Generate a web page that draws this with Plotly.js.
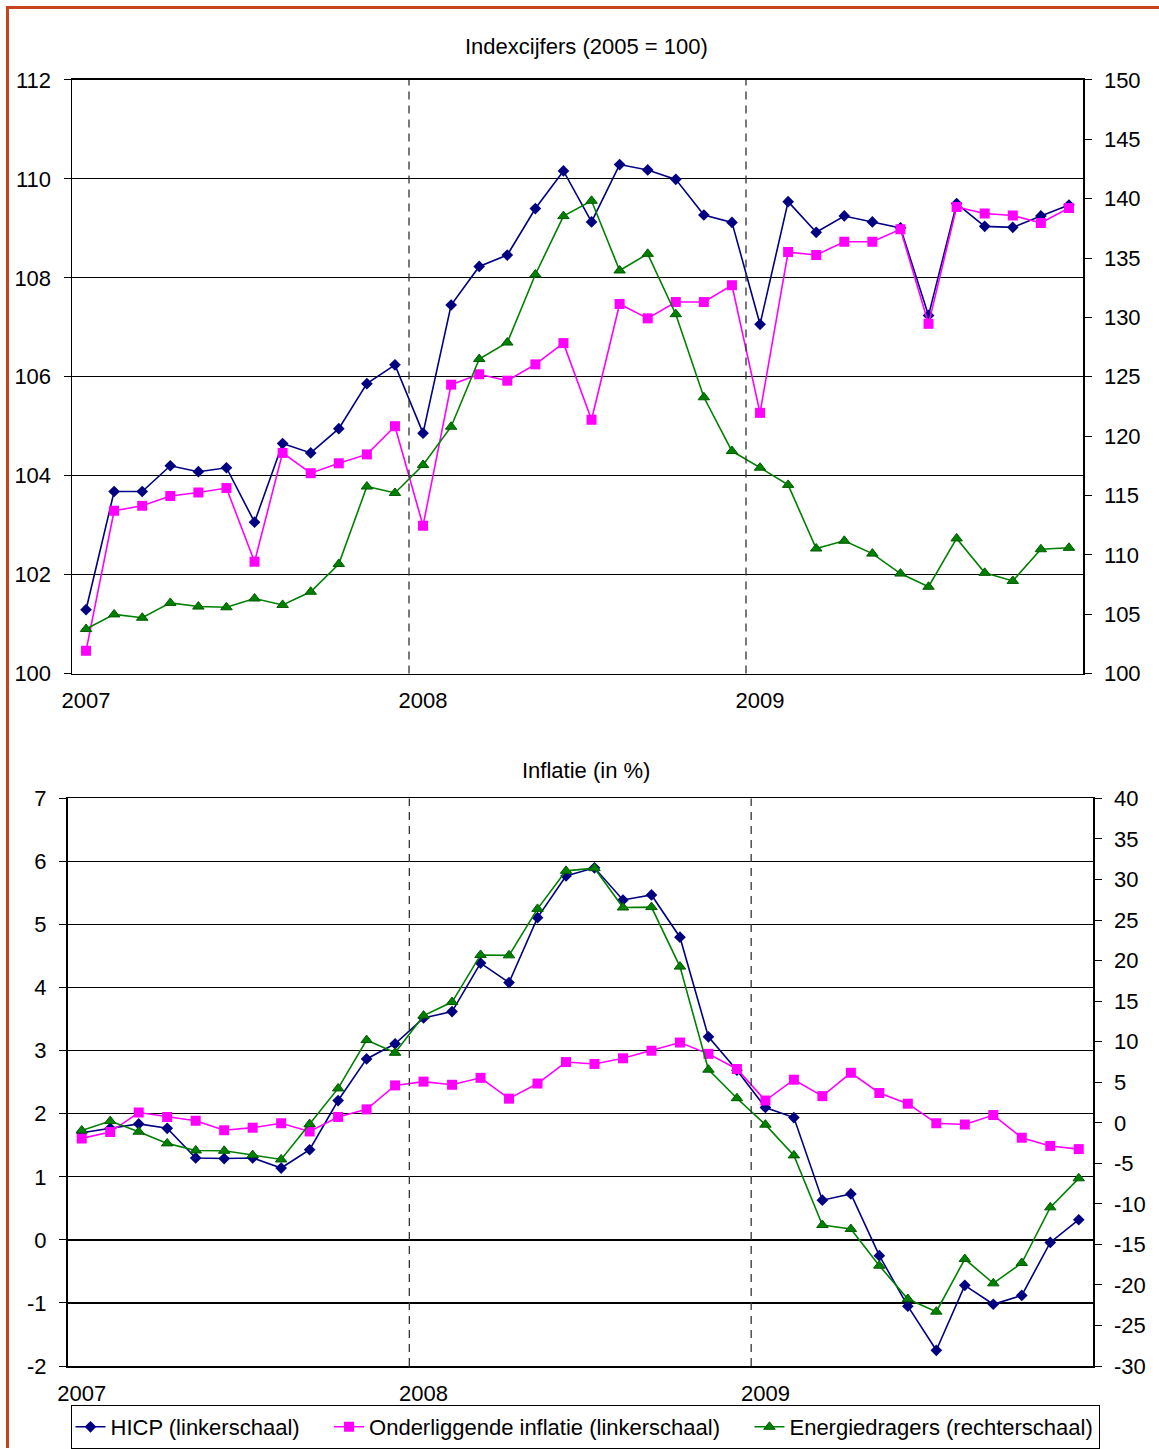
<!DOCTYPE html>
<html>
<head>
<meta charset="utf-8">
<script src="https://cdn.plot.ly/plotly-3.0.1.min.js"></script>
<style>
  html, body { margin: 0; padding: 0; background: #ffffff; }
  #chart { width: 1159px; height: 1449px; }
</style>
</head>
<body>
<div id="chart"></div>
<script>
// Months Jan 2007 .. Dec 2009 (index 0..35)
const months = Array.from({length: 36}, (_, i) => i);
const yearTickVals = [0, 12, 24];
const yearTickText = ['2007', '2008', '2009'];
const yearBreaks = [11.5, 23.5];

// Tick labels of the bottom panel (plain hyphen minus as in the original)
const inflLeftTicks = [-2, -1, 0, 1, 2, 3, 4, 5, 6, 7];
const inflLeftText = ['-2', '-1', '0', '1', '2', '3', '4', '5', '6', '7'];
const inflRightTicks = [-30, -25, -20, -15, -10, -5, 0, 5, 10, 15, 20, 25, 30, 35, 40];
const inflRightText = ['-30', '-25', '-20', '-15', '-10', '-5', '0', '5', '10', '15', '20', '25', '30', '35', '40'];

// Top panel: index numbers (2005 = 100)
const hicpIndex = [101.29, 103.68, 103.68, 104.20, 104.08, 104.16, 103.06, 104.65, 104.46, 104.95, 105.86, 106.24,
                   104.86, 107.45, 108.23, 108.46, 109.40, 110.16, 109.13, 110.29, 110.18, 109.99, 109.27, 109.12,
                   107.06, 109.54, 108.92, 109.25, 109.13, 109.01, 107.24, 109.50, 109.04, 109.02, 109.25, 109.47];
const coreIndex = [100.46, 103.29, 103.39, 103.59, 103.66, 103.75, 102.26, 104.46, 104.05, 104.25, 104.43, 105.00,
                   102.99, 105.84, 106.05, 105.92, 106.25, 106.68, 105.13, 107.47, 107.18, 107.51, 107.51, 107.85,
                   105.27, 108.52, 108.46, 108.73, 108.73, 108.98, 107.07, 109.43, 109.30, 109.26, 109.11, 109.41];
const energyIndex = [103.75, 104.98, 104.70, 105.95, 105.64, 105.58, 106.32, 105.78, 106.89, 109.23, 115.75, 115.21,
                     117.57, 120.79, 126.49, 127.88, 133.61, 138.53, 139.82, 133.95, 135.35, 130.27, 123.27, 118.74,
                     117.34, 115.89, 110.53, 111.18, 110.10, 108.42, 107.31, 111.38, 108.48, 107.80, 110.47, 110.59];

// Bottom panel: inflation (in %)
const hicpInfl = [1.70, 1.77, 1.84, 1.77, 1.30, 1.29, 1.30, 1.14, 1.43, 2.21, 2.87, 3.11,
                  3.52, 3.62, 4.39, 4.08, 5.11, 5.77, 5.90, 5.39, 5.47, 4.80, 3.22, 2.69,
                  2.10, 1.94, 0.63, 0.73, -0.25, -1.05, -1.75, -0.72, -1.02, -0.88, -0.04, 0.32];
const coreInfl = [1.61, 1.71, 2.02, 1.95, 1.89, 1.74, 1.78, 1.85, 1.72, 1.95, 2.07, 2.45,
                  2.51, 2.46, 2.57, 2.24, 2.48, 2.82, 2.79, 2.88, 3.00, 3.13, 2.95, 2.71,
                  2.21, 2.54, 2.28, 2.65, 2.33, 2.16, 1.85, 1.83, 1.98, 1.62, 1.49, 1.44];
const energyInfl = [-0.94, 0.21, -1.10, -2.54, -3.41, -3.45, -3.98, -4.52, -0.16, 4.24, 10.20, 8.63,
                    13.22, 14.89, 20.70, 20.65, 26.38, 31.07, 31.40, 26.55, 26.60, 19.26, 6.55, 3.03,
                    -0.23, -4.02, -12.61, -13.10, -17.62, -21.73, -23.29, -16.80, -19.80, -17.29, -10.43, -6.85];

const names = ['HICP (linkerschaal)', 'Onderliggende inflatie (linkerschaal)', 'Energiedragers (rechterschaal)'];
const colors = ['#000080', '#FF00FF', '#008000'];

const FONT = 'Liberation Sans, Arial, sans-serif';
const PAD = '\u00a0\u00a0\u00a0\u00a0';

function series(x, y, idx, xa, ya, showlegend) {
  const symbols = ['diamond', 'square', 'triangle-up'];
  const sizes = [9, 10, 10];
  return {
    x: x, y: y, xaxis: xa, yaxis: ya, type: 'scatter', mode: 'lines+markers',
    name: idx < 2 ? names[idx] + PAD : names[idx], showlegend: showlegend, legendgroup: 'g' + idx,
    line: {color: colors[idx], width: 1.6},
    marker: {symbol: symbols[idx], size: sizes[idx], color: colors[idx],
             line: {color: idx === 2 ? '#005a00' : colors[idx], width: idx === 2 ? 1 : 0}}
  };
}

const data = [
  series(months, hicpIndex, 0, 'x', 'y', true),
  series(months, coreIndex, 1, 'x', 'y', true),
  series(months, energyIndex, 2, 'x', 'y2', true),
  series(months, hicpInfl, 0, 'x2', 'y3', false),
  series(months, coreInfl, 1, 'x2', 'y3', false),
  series(months, energyInfl, 2, 'x2', 'y4', false)
];

const W = 1159, H = 1449;
const px = v => v / W;
const py = v => 1 - v / H;

const tickFont = {family: FONT, size: 22, color: '#000'};

function xAxis(domain, anchor) {
  return {
    domain: domain, anchor: anchor, range: [-0.5, 35.5],
    tickvals: yearTickVals, ticktext: yearTickText, ticks: '', showgrid: false,
    showline: true, mirror: true, linecolor: '#000', linewidth: 1.5, zeroline: false,
    ticklabelstandoff: 7,
    tickfont: tickFont, fixedrange: true
  };
}
function yLeft(domain, anchor, range, dtick) {
  return {
    domain: domain, anchor: anchor, range: range, dtick: dtick, tick0: range[0],
    showgrid: true, gridcolor: '#000', gridwidth: 1.2,
    showline: true, linecolor: '#000', linewidth: 1.5, zeroline: false,
    ticks: 'outside', ticklen: 7, tickcolor: '#000', tickwidth: 1,
    ticklabelstandoff: 8,
    tickfont: tickFont, fixedrange: true
  };
}
function yRight(overlay, anchor, range, dtick) {
  return {
    overlaying: overlay, anchor: anchor, side: 'right', range: range, dtick: dtick, tick0: range[0],
    showgrid: false, showline: true, linecolor: '#000', linewidth: 1.5, zeroline: false,
    ticks: 'outside', ticklen: 7, tickcolor: '#000', tickwidth: 1,
    ticklabelstandoff: 8,
    tickfont: tickFont, fixedrange: true
  };
}

const topX = [px(72), px(1083)];
const topY = [py(674), py(80)];
const botX = [px(67.5), px(1093)];
const botY = [py(1367), py(799)];

const y3 = yLeft(botY, 'x2', [-2, 7], 1);
y3.tickmode = 'array'; y3.tickvals = inflLeftTicks; y3.ticktext = inflLeftText;
const y4 = yRight('y3', 'x2', [-30, 40], 5);
y4.tickmode = 'array'; y4.tickvals = inflRightTicks; y4.ticktext = inflRightText;

const shapes = [];
yearBreaks.forEach(b => {
  shapes.push({type: 'line', xref: 'x', yref: 'y domain', x0: b, x1: b, y0: 0, y1: 1,
               line: {color: '#333', width: 1.3, dash: '8px,6px'}});
  shapes.push({type: 'line', xref: 'x2', yref: 'y3 domain', x0: b, x1: b, y0: 0, y1: 1,
               line: {color: '#333', width: 1.3, dash: '8px,6px'}});
});
// Orange frame edges (top and left)
shapes.push({type: 'line', xref: 'paper', yref: 'paper', x0: px(7), x1: 1, y0: py(7.5), y1: py(7.5),
             line: {color: '#C8421C', width: 3}});
shapes.push({type: 'line', xref: 'paper', yref: 'paper', x0: px(7.5), x1: px(7.5), y0: 0, y1: py(6),
             line: {color: '#C8421C', width: 3}});

const layout = {
  width: W, height: H,
  margin: {l: 0, r: 0, t: 0, b: 0},
  paper_bgcolor: '#fff', plot_bgcolor: '#fff',
  font: {family: FONT, color: '#000'},
  showlegend: true,
  legend: {
    orientation: 'h', x: px(585), xanchor: 'center', y: py(1428), yanchor: 'middle',
    bgcolor: '#fff', bordercolor: '#000', borderwidth: 1,
    font: {family: FONT, size: 22, color: '#000'},
    itemwidth: 30, tracegroupgap: 0
  },
  xaxis: xAxis(topX, 'y'),
  yaxis: yLeft(topY, 'x', [100, 112], 2),
  yaxis2: yRight('y', 'x', [100, 150], 5),
  xaxis2: xAxis(botX, 'y3'),
  yaxis3: y3,
  yaxis4: y4,
  shapes: shapes,
  annotations: [
    {text: 'Indexcijfers (2005 = 100)', xref: 'paper', yref: 'paper', x: px(586), y: py(47),
     xanchor: 'center', yanchor: 'middle', showarrow: false, font: {family: FONT, size: 22, color: '#000'}},
    {text: 'Inflatie (in %)', xref: 'paper', yref: 'paper', x: px(586), y: py(771),
     xanchor: 'center', yanchor: 'middle', showarrow: false, font: {family: FONT, size: 22, color: '#000'}}
  ]
};

Plotly.newPlot('chart', data, layout, {displayModeBar: false, staticPlot: true});
</script>
</body>
</html>
